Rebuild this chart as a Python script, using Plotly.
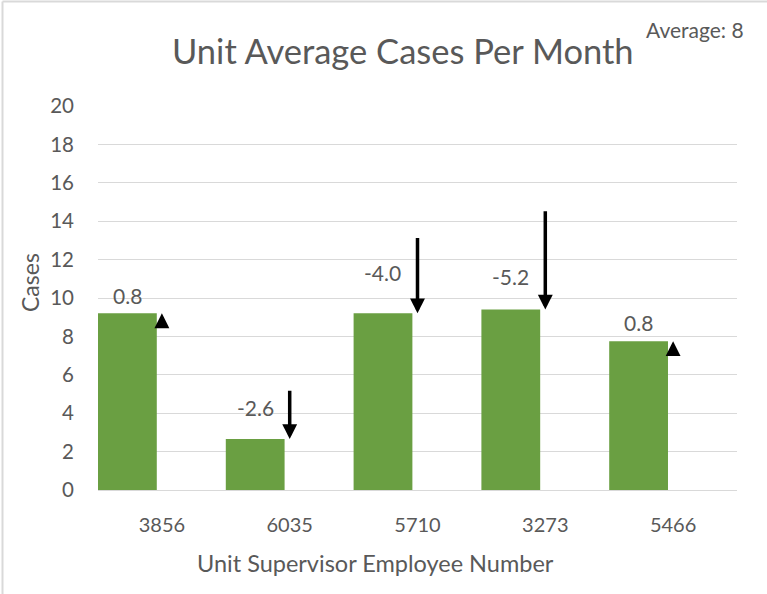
import plotly.graph_objects as go

# ---- data ----
supervisors = ["3856", "6035", "5710", "3273", "5466"]
avg_cases = [9.2, 2.65, 9.2, 9.4, 7.75]
change = [0.8, -2.6, -4.0, -5.2, 0.8]
unit_average = 8

# ---- styling / layout constants ----
W, H = 767, 594
ML, MR, MT, MB = 98, 30, 106, 104
PW, PH = W - ML - MR, H - MT - MB
BAR_W = 0.46
BAR_OFF = -0.5
label_shift = [18, 32, 41, 33, 19]
FONT = "Lato"
TXT = "#595959"
GREEN = "#6a9f42"


def px_x(p):
    return (p - ML) / PW


def px_y(p):
    return (H - MB - p) / PH


fig = go.Figure()
fig.add_trace(go.Bar(
    x=list(range(len(supervisors))), y=avg_cases, width=BAR_W, offset=BAR_OFF,
    marker=dict(color=GREEN, line_width=0), hoverinfo="skip",
))

annotations = []
for i, (v, c) in enumerate(zip(avg_cases, change)):
    prev = v - c
    annotations.append(dict(
        x=i, y=v, ax=i, ay=prev, xref="x", yref="y", axref="x", ayref="y",
        text="", showarrow=True, arrowhead=2, arrowwidth=3.5, arrowsize=0.85,
        arrowcolor="black", standoff=0, startstandoff=0,
    ))
    annotations.append(dict(
        x=i + BAR_OFF + BAR_W / 2, y=v, xref="x", yref="y", text=f"{c:.1f}",
        showarrow=False, yshift=label_shift[i], yanchor="middle",
        font=dict(family=FONT, size=21, color=TXT),
    ))

annotations += [
    dict(x=px_x(403), y=px_y(50), xref="paper", yref="paper", text="Unit Average Cases Per Month",
         showarrow=False, xanchor="center", yanchor="middle", font=dict(family=FONT, size=34.5, color=TXT)),
    dict(x=px_x(695), y=px_y(30), xref="paper", yref="paper", text=f"Average: {unit_average}",
         showarrow=False, xanchor="center", yanchor="middle", font=dict(family=FONT, size=21, color=TXT)),
    dict(x=px_x(30), y=px_y(283), xref="paper", yref="paper", text="Cases", textangle=-90,
         showarrow=False, xanchor="center", yanchor="middle", font=dict(family=FONT, size=23, color=TXT)),
    dict(x=px_x(375), y=px_y(563), xref="paper", yref="paper", text="Unit Supervisor Employee Number",
         showarrow=False, xanchor="center", yanchor="middle", font=dict(family=FONT, size=23.5, color=TXT)),
]

shapes = [
    dict(type="line", xref="paper", yref="paper", x0=px_x(2.5), x1=px_x(2.5), y0=px_y(H), y1=px_y(1.5),
         line=dict(color="#d9d9d9", width=2)),
    dict(type="line", xref="paper", yref="paper", x0=px_x(2.5), x1=px_x(W), y0=px_y(1.5), y1=px_y(1.5),
         line=dict(color="#d9d9d9", width=2)),
]

fig.update_layout(
    width=W, height=H,
    margin=dict(l=ML, r=MR, t=MT, b=MB),
    paper_bgcolor="white", plot_bgcolor="white",
    showlegend=False,
    annotations=annotations, shapes=shapes,
    xaxis=dict(
        range=[-0.5, len(supervisors) - 0.5], tickmode="array",
        tickvals=list(range(len(supervisors))), ticktext=supervisors,
        showgrid=False, zeroline=False, showline=True, linecolor="#d9d9d9", linewidth=1,
        ticks="", ticklabelstandoff=17,
        tickfont=dict(family=FONT, size=20, color=TXT),
    ),
    yaxis=dict(
        range=[0, 20], dtick=2, tick0=0, showgrid=True, gridcolor="#d9d9d9", gridwidth=1,
        zeroline=False, showline=False, ticks="", ticklabelstandoff=23,
        tickfont=dict(family=FONT, size=20.5, color=TXT),
    ),
)

fig.write_html(
    "out.html",
    config={"displayModeBar": False},
    post_script="document.body.style.margin='0';document.body.style.overflow='hidden';",
)
